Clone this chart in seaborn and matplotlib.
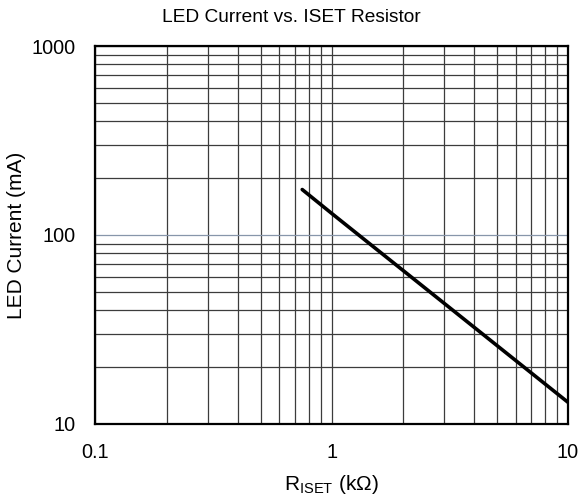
import matplotlib

matplotlib.use("Agg")

import matplotlib.pyplot as plt
import matplotlib.ticker as mticker
import pandas as pd
import seaborn as sns

# values
r_iset_kohm = [0.75, 1.0, 2.0, 5.0, 10.0]
led_current_ma = [174, 130, 65, 26, 13]

x_ticks = [0.1, 1, 10]
x_tick_labels = ["0.1", "1", "10"]
y_ticks = [10, 100, 1000]
y_tick_labels = ["10", "100", "1000"]

GRID_COLOR = "#3c3c3c"
HIGHLIGHT_GRID = "#8796aa"


def main() -> None:
    sns.set_theme(style="white")
    plt.rcParams["font.family"] = ["Liberation Sans", "DejaVu Sans"]
    plt.rcParams["text.color"] = "black"
    plt.rcParams["axes.labelcolor"] = "black"

    df = pd.DataFrame({"r": r_iset_kohm, "i": led_current_ma})

    fig = plt.figure(figsize=(5.82, 5.01), dpi=100)
    ax = fig.add_axes([0.164, 0.154, 0.812, 0.754])

    sns.lineplot(data=df, x="r", y="i", color="black", linewidth=2.6, ax=ax, zorder=3)

    ax.set_xscale("log")
    ax.set_yscale("log")
    ax.set_xlim(0.1, 10)
    ax.set_ylim(10, 1000)

    ax.xaxis.set_major_locator(mticker.FixedLocator(x_ticks))
    ax.yaxis.set_major_locator(mticker.FixedLocator(y_ticks))
    ax.xaxis.set_minor_locator(mticker.LogLocator(base=10, subs=range(2, 10), numticks=20))
    ax.yaxis.set_minor_locator(mticker.LogLocator(base=10, subs=range(2, 10), numticks=20))
    ax.xaxis.set_minor_formatter(mticker.NullFormatter())
    ax.yaxis.set_minor_formatter(mticker.NullFormatter())
    ax.set_xticklabels(x_tick_labels)
    ax.set_yticklabels(y_tick_labels)

    ax.grid(True, which="both", color=GRID_COLOR, linewidth=0.9)
    for tick in ax.yaxis.get_major_ticks():
        if tick.get_loc() == 100:
            tick.gridline.set_color(HIGHLIGHT_GRID)

    ax.tick_params(axis="both", which="both", length=0, labelsize=14.3, labelcolor="black")
    ax.tick_params(axis="x", pad=14)
    ax.tick_params(axis="y", pad=14)

    for spine in ax.spines.values():
        spine.set_color("black")
        spine.set_linewidth(1.6)
        spine.set_zorder(4)

    ax.set_xlabel(r"R$_{\mathregular{ISET}}$ (k$\mathregular{\Omega}$)", fontsize=15, labelpad=8)
    ax.set_ylabel("LED Current (mA)", fontsize=15)
    ax.yaxis.set_label_coords(-0.148, 0.5)
    fig.text(0.5, 0.966, "LED Current vs. ISET Resistor", ha="center", va="center", fontsize=13.8)

    fig.savefig("out.png", dpi=100)
    plt.close(fig)


if __name__ == "__main__":
    main()
